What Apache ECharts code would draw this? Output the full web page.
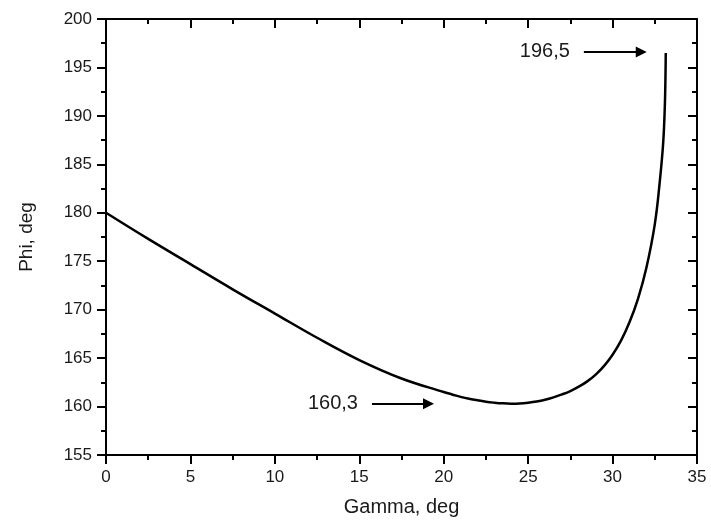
<!DOCTYPE html>
<html>
<head>
<meta charset="utf-8">
<script src="https://cdn.jsdelivr.net/npm/echarts@6/dist/echarts.min.js"></script>
<style>
  html, body { margin: 0; padding: 0; background: #fff; }
  #chart { width: 711px; height: 523px; }
</style>
</head>
<body>
<div id="chart"></div>
<script>
// Gamma (deg) and Phi (deg)
const gamma = [0, 2.5, 5, 7.5, 10, 12.5, 15, 17.5, 20, 20.5, 21, 21.5, 22, 22.5, 23, 23.5, 24, 24.5, 25, 25.5, 26, 26.5, 27, 27.5, 28, 28.5, 29, 29.5, 30, 30.5, 31, 31.5, 32, 32.5, 32.8, 33.0, 33.1, 33.15];
const phi   = [180, 177.3, 174.7, 172.1, 169.6, 167.1, 164.8, 162.9, 161.5, 161.25, 161.0, 160.8, 160.65, 160.5, 160.4, 160.33, 160.3, 160.32, 160.4, 160.52, 160.7, 160.95, 161.25, 161.6, 162.05, 162.6, 163.3, 164.2, 165.35, 166.8, 168.7, 171.1, 174.3, 178.8, 183.3, 187.3, 191.3, 196.5];

// annotations: label text, arrow start / end (gamma), level (phi)
const noteText  = ['160,3', '196,5'];
const noteFrom  = [15.75, 28.3];
const noteTo    = [19.1, 31.7];
const noteLevel = [160.3, 196.6];

const xTicks = { min: 0, max: 35, interval: 5 };
const yTicks = { min: 155, max: 200, interval: 5 };

let chart = echarts.init(document.getElementById('chart'));

const textColor = '#1a1a1a';
const axisLine = { show: true, onZero: false, lineStyle: { color: '#000', width: 2 } };

function axisBase(mirror) {
  return {
    type: 'value',
    axisLine: axisLine,
    axisTick: { show: true, inside: mirror, length: 9, lineStyle: { color: '#000', width: 2 } },
    minorTick: { show: true, splitNumber: 2, length: 5, lineStyle: { color: '#000', width: 2 } },
    splitLine: { show: false },
    axisLabel: {
      show: !mirror, margin: 14, color: textColor,
      fontFamily: 'Liberation Sans, Arial, sans-serif', fontSize: 17
    }
  };
}

const series = [{
  type: 'line',
  data: gamma.map((g, i) => [g, phi[i]]),
  smooth: 0.4,
  showSymbol: false,
  lineStyle: { color: '#000', width: 2.5 },
  markLine: {
    silent: true,
    symbol: ['none', 'triangle'],
    symbolSize: 11,
    lineStyle: { color: '#000', width: 2, type: 'solid' },
    label: {
      show: true, position: 'start', distance: 14,
      color: textColor, fontSize: 20,
      fontFamily: 'Liberation Sans, Arial, sans-serif',
      formatter: p => p.data.name
    },
    data: noteText.map((t, i) => [
      { name: t, coord: [noteFrom[i], noteLevel[i]] },
      { coord: [noteTo[i], noteLevel[i]] }
    ])
  }
}];

chart.setOption({
  animation: false,
  backgroundColor: '#fff',
  grid: { left: 106, right: 14, top: 19, bottom: 68, containLabel: false },
  xAxis: [
    Object.assign(axisBase(false), xTicks, {
      position: 'bottom',
      name: 'Gamma, deg', nameLocation: 'middle', nameGap: 42,
      nameTextStyle: { color: textColor, fontSize: 20, fontFamily: 'Liberation Sans, Arial, sans-serif' }
    }),
    Object.assign(axisBase(true), xTicks, { position: 'top' })
  ],
  yAxis: [
    Object.assign(axisBase(false), yTicks, {
      position: 'left',
      name: 'Phi, deg', nameLocation: 'middle', nameGap: 70,
      nameTextStyle: { color: textColor, fontSize: 19, fontFamily: 'Liberation Sans, Arial, sans-serif' }
    }),
    Object.assign(axisBase(true), yTicks, { position: 'right' })
  ],
  series: series
});
</script>
</body>
</html>
